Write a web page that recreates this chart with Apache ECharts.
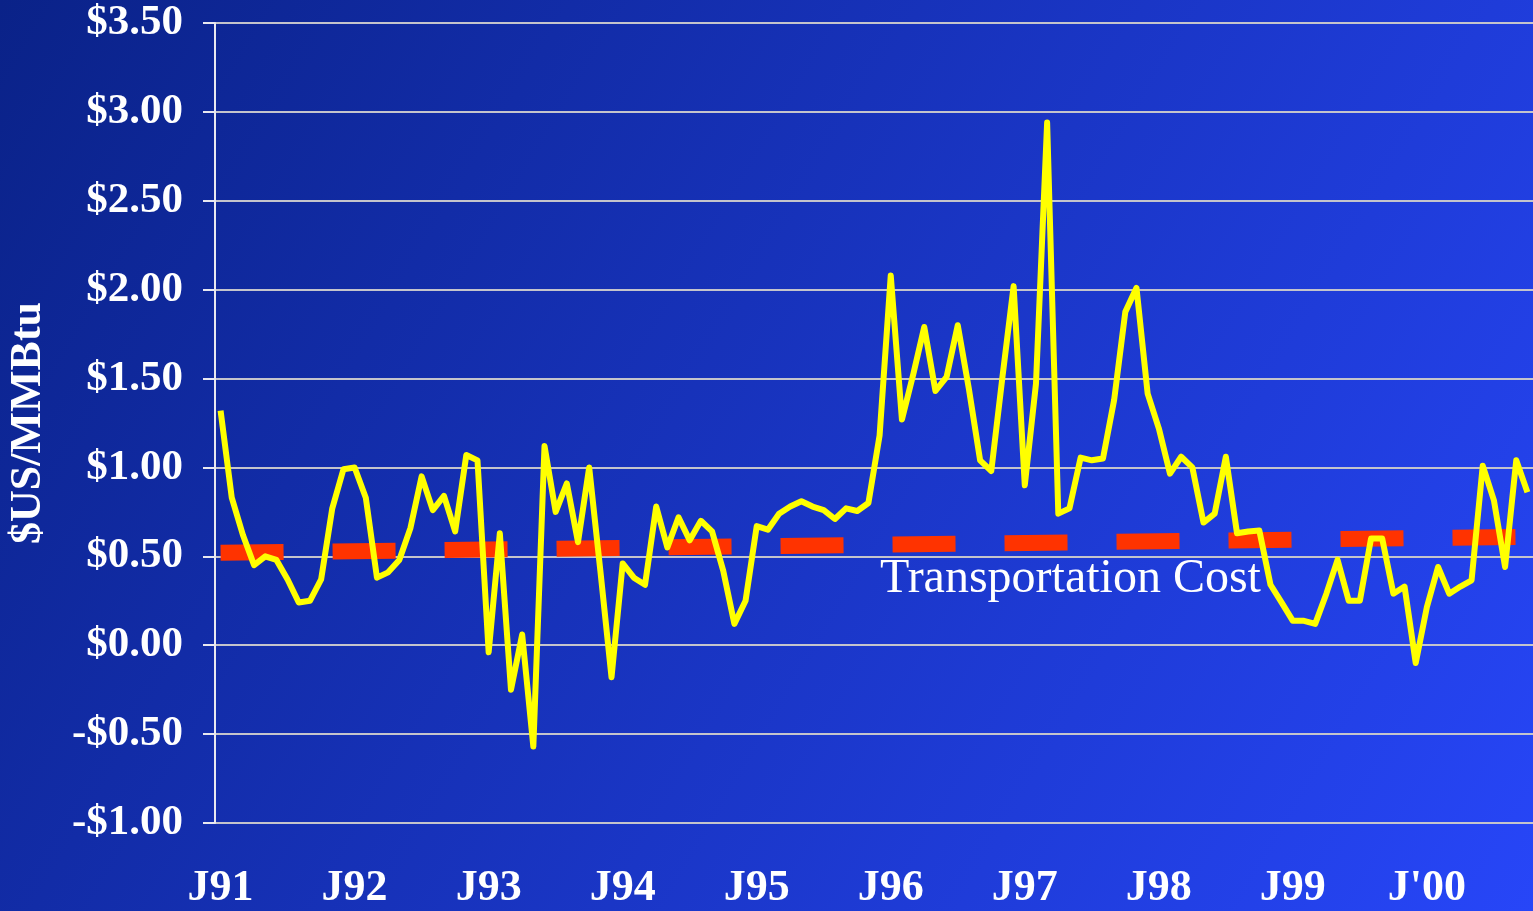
<!DOCTYPE html>
<html>
<head>
<meta charset="utf-8">
<title>Spread vs Transportation Cost</title>
<script src="https://cdn.jsdelivr.net/npm/echarts@6/dist/echarts.min.js"></script>
<style>
  html, body { margin: 0; padding: 0; width: 100%; height: 100%; overflow: hidden; }
  #chart { width: 1533px; height: 911px; }
</style>
</head>
<body>
<div id="chart"></div>
<script>
  // monthly values, Jan 1991 .. Oct 2000 ($US/MMBtu)
  var prices = [
    1.32, 0.83, 0.62, 0.45, 0.50, 0.48, 0.37, 0.24, 0.25, 0.37, 0.77, 0.99,   // 1991
    1.00, 0.83, 0.38, 0.41, 0.48, 0.66, 0.95, 0.76, 0.84, 0.64, 1.07, 1.04,   // 1992
    -0.04, 0.63, -0.25, 0.06, -0.57, 1.12, 0.75, 0.91, 0.58, 1.00, 0.42, -0.18, // 1993
    0.46, 0.38, 0.34, 0.78, 0.55, 0.72, 0.59, 0.70, 0.64, 0.42, 0.12, 0.25,   // 1994
    0.67, 0.65, 0.74, 0.78, 0.81, 0.78, 0.76, 0.71, 0.77, 0.755, 0.80, 1.18,  // 1995
    2.08, 1.27, 1.52, 1.79, 1.43, 1.51, 1.80, 1.44, 1.04, 0.98, 1.51, 2.02,   // 1996
    0.90, 1.47, 2.94, 0.74, 0.77, 1.055, 1.04, 1.05, 1.38, 1.875, 2.01, 1.415, // 1997
    1.22, 0.965, 1.06, 1.00, 0.69, 0.74, 1.06, 0.63, 0.64, 0.645, 0.34, 0.24, // 1998
    0.137, 0.137, 0.12, 0.29, 0.48, 0.25, 0.25, 0.60, 0.60, 0.29, 0.33, -0.10, // 1999
    0.215, 0.44, 0.29, 0.33, 0.365, 1.01, 0.815, 0.44, 1.04, 0.86             // 2000
  ];
  var transportStart = 0.52;
  var transportEnd = 0.61;
  var yearLabels = ['J91', 'J92', 'J93', 'J94', 'J95', 'J96', 'J97', 'J98', 'J99', "J'00"];

  var months = [];
  var transport = [];
  for (var i = 0; i < prices.length; i++) {
    months.push(i % 12 === 0 ? yearLabels[i / 12] : '');
    transport.push(null);
  }
  transport[0] = transportStart;
  transport[prices.length - 1] = transportEnd;

  var serif = '"Liberation Serif", "DejaVu Serif", serif';
  var myChart = echarts.init(document.getElementById('chart'));
  myChart.setOption({
    backgroundColor: new echarts.graphic.LinearGradient(0, 0, 1, 1, [
      { offset: 0, color: '#0a2288' },
      { offset: 1, color: '#2746f8' }
    ]),
    animation: false,
    grid: { left: 215, right: 0, top: 23, bottom: 88, outerBoundsMode: 'none', containLabel: false },
    xAxis: {
      type: 'category',
      data: months,
      boundaryGap: true,
      axisLine: { show: false },
      axisTick: { show: false },
      splitLine: { show: false },
      axisLabel: {
        interval: function (idx) { return idx % 12 === 0; },
        color: '#ffffff',
        fontFamily: serif,
        fontWeight: 'bold',
        fontSize: 44,
        margin: 44
      }
    },
    yAxis: {
      type: 'value',
      min: -1,
      max: 3.5,
      interval: 0.5,
      name: '$US/MMBtu',
      nameLocation: 'middle',
      nameGap: 164,
      nameTextStyle: {
        color: '#ffffff',
        fontFamily: serif,
        fontWeight: 'bold',
        fontSize: 44
      },
      axisLine: { show: true, lineStyle: { color: '#e8e8f0', width: 2 } },
      axisTick: { show: true, length: 12, lineStyle: { color: '#e8e8f0', width: 2 } },
      splitLine: { show: true, lineStyle: { color: '#c4c4cc', width: 2 } },
      axisLabel: {
        color: '#ffffff',
        fontFamily: serif,
        fontWeight: 'bold',
        fontSize: 43,
        margin: 32,
        formatter: function (v) {
          return (v < 0 ? '-$' : '$') + Math.abs(v).toFixed(2);
        }
      }
    },
    graphic: [{
      type: 'text',
      left: 880,
      top: 555,
      style: {
        text: 'Transportation Cost',
        fill: '#ffffff',
        font: '48px ' + serif
      }
    }],
    series: [{
      name: 'Transportation Cost',
      type: 'line',
      data: transport,
      connectNulls: true,
      symbol: 'none',
      z: 3,
      lineStyle: { color: '#ff3300', width: 16, type: [63, 49], cap: 'butt' }
    }, {
      name: 'Spread',
      type: 'line',
      data: prices,
      symbol: 'none',
      z: 4,
      lineStyle: { color: '#ffff00', width: 6, join: 'round' }
    }]
  });
</script>
</body>
</html>
